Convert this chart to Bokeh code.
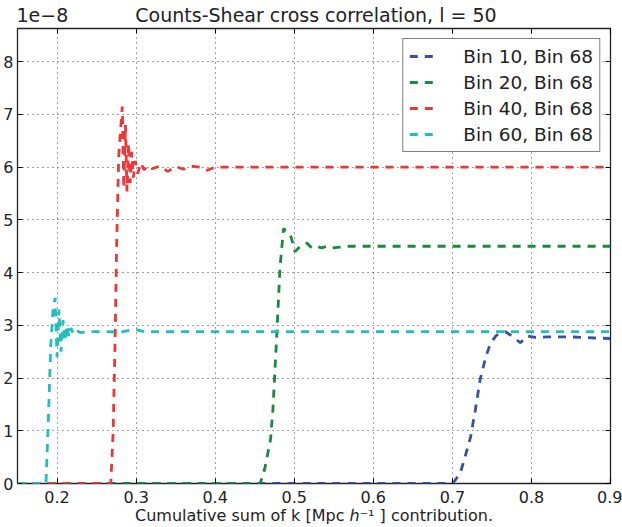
from bokeh.plotting import figure
from bokeh.models import LinearAxis, FixedTicker, Range1d, CustomJSTickFormatter
from bokeh.embed import file_html
from bokeh.resources import INLINE

# ---- data (y in units of 1e-8) ----
x_tick_values = [0.2, 0.3, 0.4, 0.5, 0.6, 0.7, 0.8, 0.9]
y_tick_values = [0, 1, 2, 3, 4, 5, 6, 7, 8]

bin10_x = [0.15, 0.698, 0.703, 0.71, 0.716, 0.723, 0.729, 0.735, 0.742, 0.748, 0.755, 0.761,
           0.767, 0.775, 0.786, 0.795, 0.805, 0.82, 0.85, 0.88, 0.9]
bin10_y = [0, 0, 0.05, 0.2, 0.5, 0.88, 1.39, 1.96, 2.39, 2.65, 2.8, 2.86,
           2.88, 2.8, 2.67, 2.8, 2.77, 2.78, 2.78, 2.76, 2.75]

bin20_x = [0.15, 0.457, 0.463, 0.47, 0.473, 0.478, 0.482, 0.4865, 0.4885, 0.495, 0.501, 0.508,
           0.516, 0.522, 0.528, 0.535, 0.541, 0.548, 0.555, 0.57, 0.9]
bin20_y = [0, 0, 0.3, 0.83, 1.4, 2.84, 4.1, 4.84, 4.8, 4.73, 4.4, 4.5,
           4.56, 4.47, 4.5, 4.47, 4.5, 4.47, 4.48, 4.5, 4.5]

bin40_x = [0.15, 0.268, 0.271, 0.2735, 0.2755, 0.278, 0.2825, 0.2845, 0.2865, 0.2885, 0.2905,
           0.2925, 0.2945, 0.2965, 0.299, 0.302, 0.306, 0.31, 0.315, 0.32, 0.33, 0.34, 0.35,
           0.36, 0.37, 0.38, 0.39, 0.4, 0.42, 0.9]
bin40_y = [0, 0, 1.0, 2.8, 4.6, 6.2, 7.15, 5.6, 6.8, 5.54, 6.45, 5.7, 6.29, 5.8, 6.12, 5.88,
           6.08, 5.95, 6.03, 5.97, 6.02, 5.92, 6.01, 5.96, 6.02, 6.0, 5.94, 6.0, 6.0, 6.0]

bin60_x = [0.15, 0.186, 0.189, 0.192, 0.195, 0.1975, 0.2, 0.2025, 0.205, 0.2075, 0.21, 0.2125,
           0.215, 0.2175, 0.221, 0.225, 0.23, 0.24, 0.26, 0.28, 0.29, 0.3, 0.31, 0.33, 0.9]
bin60_y = [0, 0, 1.2, 2.6, 3.3, 3.52, 2.4, 3.3, 2.5, 3.1, 2.7, 3.0,
           2.78, 2.95, 2.83, 2.9, 2.86, 2.88, 2.88, 2.87, 2.9, 2.92, 2.88, 2.88, 2.88]

series_labels = ["Bin 10, Bin 68", "Bin 20, Bin 68", "Bin 40, Bin 68", "Bin 60, Bin 68"]
series_colors = ["#3451a6", "#188a3f", "#ef3535", "#1dbfbf"]

title_text = "Counts-Shear cross correlation, l = 50"
x_label = "Cumulative sum of k [Mpc \u210e\u207b\u00b9 ] contribution."
offset_text = "1e\u22128"
header_texts = [offset_text, title_text]
header_positions = [0.1815, 0.5275]   # x positions of the header texts (text centres)

FONT = "DejaVu Sans"

p = figure(width=622, height=527, output_backend="svg", toolbar_location=None, title=None,
           x_range=Range1d(0.15, 0.9), y_range=Range1d(0, 8.63),
           min_border_left=17, min_border_right=12, min_border_top=26, min_border_bottom=43)
p.background_fill_color = "white"
p.border_fill_color = "white"
p.outline_line_color = "#222222"
p.outline_line_width = 1.3

xs = [bin10_x, bin20_x, bin40_x, bin60_x]
ys = [bin10_y, bin20_y, bin40_y, bin60_y]
for xv, yv, lab, col in zip(xs, ys, series_labels, series_colors):
    p.line(xv, yv, line_color=col, line_width=2.8, line_dash="8 7", legend_label=lab)

# axes
p.xaxis.ticker = FixedTicker(ticks=x_tick_values)
p.yaxis.ticker = FixedTicker(ticks=y_tick_values)
p.xaxis.axis_label = x_label
for ax in [p.xaxis[0], p.yaxis[0]]:
    ax.major_tick_in = 5
    ax.major_tick_out = 0
    ax.minor_tick_line_color = None
    ax.axis_line_color = None
    ax.major_tick_line_color = "black"
    ax.major_label_text_font = FONT
    ax.major_label_text_font_size = "16px"
    ax.major_label_text_color = "#222222"
p.yaxis.major_label_standoff = 4
p.xaxis.major_label_standoff = 7
p.xaxis.axis_label_text_font = FONT
p.xaxis.axis_label_text_font_size = "16px"
p.xaxis.axis_label_text_font_style = "normal"
p.xaxis.axis_label_text_color = "#222222"
p.xaxis.axis_label_standoff = 0
p.xaxis.formatter = CustomJSTickFormatter(code="return tick.toFixed(1);")
p.yaxis.formatter = CustomJSTickFormatter(code="return tick.toFixed(0);")

# tick marks on the right and top edges (no labels)
blank = CustomJSTickFormatter(code="return '';")
for loc, tv in [("right", y_tick_values), ("above", x_tick_values)]:
    ax = LinearAxis(ticker=FixedTicker(ticks=tv), formatter=blank,
                    major_label_text_font_size="0px", major_label_standoff=0,
                    major_tick_in=5, major_tick_out=0, minor_tick_line_color=None,
                    axis_line_color=None, major_tick_line_color="black")
    p.add_layout(ax, loc)

# header row: offset text "1e-8" and the title, on one line above the frame
header = LinearAxis(ticker=FixedTicker(ticks=header_positions),
                    formatter=CustomJSTickFormatter(args=dict(labels=header_texts),
                                                    code="return labels[index];"),
                    major_label_text_font=FONT, major_label_text_font_size="19px",
                    major_label_text_color="#222222", major_label_standoff=3,
                    major_tick_in=0, major_tick_out=0, major_tick_line_color=None,
                    minor_tick_line_color=None, axis_line_color=None)
p.add_layout(header, "above")

# grid
for g in [p.xgrid[0], p.ygrid[0]]:
    g.grid_line_color = "black"
    g.grid_line_dash = "1 4"
    g.grid_line_width = 1
    g.grid_line_alpha = 0.75

# legend
lg = p.legend[0]
lg.location = "top_right"
lg.margin = 10
lg.padding = 6
lg.spacing = 4
lg.glyph_width = 30
lg.glyph_height = 22
lg.label_standoff = 24
lg.label_text_font = FONT
lg.label_text_font_size = "18.5px"
lg.label_text_color = "#222222"
lg.border_line_color = "black"
lg.border_line_width = 1
lg.background_fill_color = "white"
lg.background_fill_alpha = 1

open("out.html", "w").write(file_html(p, INLINE))
